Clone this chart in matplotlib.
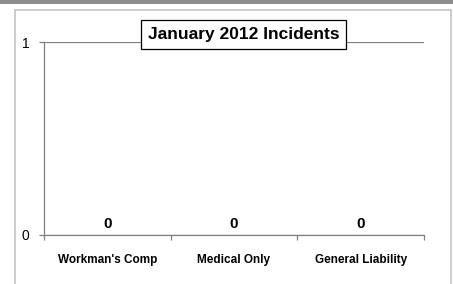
import matplotlib
matplotlib.use("Agg")
import matplotlib.pyplot as plt
from matplotlib.patches import Rectangle

categories = ["Workman's Comp", "Medical Only", "General Liability"]
values = [0, 0, 0]
title = "January 2012 Incidents"
yticks = [0, 1]

W, H = 453, 284
fig = plt.figure(figsize=(W / 100, H / 100), dpi=100)
fig.patch.set_facecolor("white")

# top gray strip and chart-area border
fig.add_artist(Rectangle((0, 1 - 3.5 / H), 1, 3.5 / H, transform=fig.transFigure,
                         facecolor="#8c8c8c", edgecolor="none", zorder=-2))
fig.add_artist(Rectangle((15 / W, -0.05), (451 - 15) / W, 1 - 10 / H + 0.05,
                         transform=fig.transFigure, facecolor="white",
                         edgecolor="#c4c4c4", linewidth=1.2, zorder=-1))

ax = fig.add_axes([44 / W, 1 - 235 / H, (424 - 44) / W, (235 - 42) / H])
ax.set_facecolor("none")
x = list(range(len(categories)))
bars = ax.bar(x, values, width=0.6, color="#4f81bd")
ax.set_xlim(-0.5, len(categories) - 0.5)
ax.set_ylim(0, 1)

for xi, v in zip(x, values):
    ax.annotate(str(v), (xi, v), xytext=(0, 3), textcoords="offset points",
                ha="center", va="bottom", fontsize=11, fontweight="bold",
                family="Liberation Sans")

ax.set_yticks(yticks)
ax.set_yticklabels([str(t) for t in yticks], fontsize=10, family="Liberation Sans")
ax.yaxis.grid(True, color="#808080", linewidth=0.9)
ax.set_axisbelow(True)

ax.set_xticks([i - 0.5 for i in range(len(categories) + 1)])
ax.set_xticklabels([])
ax.set_xticks(x, minor=True)
ax.set_xticklabels(categories, minor=True, fontsize=8.5, fontweight="bold",
                   family="Liberation Sans")
ax.tick_params(axis="x", which="minor", length=0, pad=14)
ax.tick_params(axis="x", which="major", length=3.5, color="#808080", width=0.9)
ax.tick_params(axis="y", length=3.5, color="#808080", width=0.9, pad=7)

for s in ["top", "right"]:
    ax.spines[s].set_visible(False)
for s in ["left", "bottom"]:
    ax.spines[s].set_color("#808080")
    ax.spines[s].set_linewidth(0.9)

fig.text(243.5 / W, 1 - 34.5 / H, title, ha="center", va="center",
         fontsize=12.5, fontweight="bold", family="Liberation Sans",
         bbox=dict(boxstyle="square,pad=0.4", facecolor="white",
                   edgecolor="black", linewidth=0.9))

fig.savefig("out.png", dpi=100)
